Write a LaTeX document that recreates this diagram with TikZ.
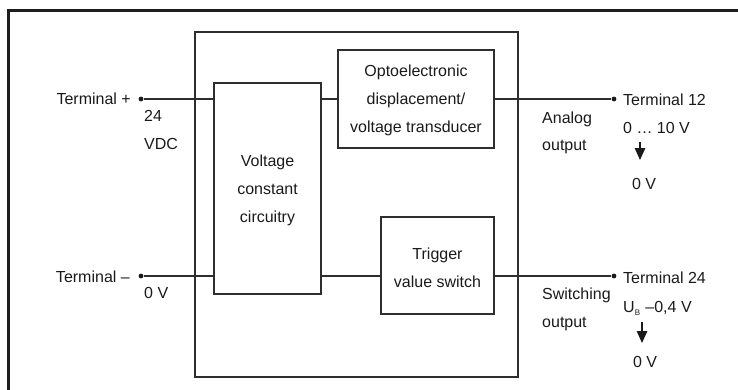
\documentclass[tikz,border=0pt]{standalone}
\usepackage{fontspec}
\setmainfont{Liberation Sans}
\usetikzlibrary{arrows.meta}
\definecolor{linec}{HTML}{2E2E2E}
\definecolor{txtc}{HTML}{1A1A1A}
\definecolor{framec}{HTML}{1E1E1E}
\begin{document}
\begin{tikzpicture}[x=1pt,y=-1pt,
  box/.style={draw=linec, line width=1.1pt, rectangle, inner sep=0pt},
  wire/.style={draw=linec, line width=1.1pt},
  txt/.style={font=\fontsize{16}{28.3}\selectfont, text=txtc, inner sep=0pt},
  btxt/.style={txt, align=center},
  dotc/.style={circle, fill=txtc, inner sep=0pt, minimum size=4.8pt},
  varrow/.style={draw=txtc, line width=1.3pt, -{Triangle[length=12pt,width=10.5pt]}}
]
\useasboundingbox (0,0) rectangle (738,389);
\begin{scope}
\clip (0,0) rectangle (738,389);
\draw[framec, line width=3pt] (8,10) rectangle (800,450);
\end{scope}

% boxes
\node[box, minimum width=323pt, minimum height=345pt] (outer) at (356.5,204.5) {};
\node[box, minimum width=107pt, minimum height=211pt] (vc) at (267.5,188.5) {};
\node[box, minimum width=156pt, minimum height=98pt] (opto) at (416,99) {};
\node[box, minimum width=113pt, minimum height=97pt] (trig) at (437.5,265.5) {};

% box texts
\node[btxt] (vct) at (267.5,190.5) {Voltage\\constant\\circuitry};
\node[btxt] (optot) at (416,100.5) {Optoelectronic\\displacement/\\voltage transducer};
\node[btxt] (trigt) at (437.5,268) {Trigger\\value switch};

% terminals
\node[dotc] (tp) at (141,99) {};
\node[dotc] (tm) at (141,276) {};
\node[dotc] (t12) at (614,99) {};
\node[dotc] (t24) at (614,276) {};

% wires
\draw[wire] (tp) -- (vc.west |- tp);
\draw[wire] (vc.east |- tp) -- (opto.west |- tp);
\draw[wire] (opto.east |- t12) -- (t12);
\draw[wire] (tm) -- (vc.west |- tm);
\draw[wire] (vc.east |- tm) -- (trig.west |- tm);
\draw[wire] (trig.east |- t24) -- (t24);

% left labels
\node[txt, anchor=base east] (ltp) at (131,104) {Terminal +};
\node[txt, anchor=base west] (l24) at (144,121) {24};
\node[txt, anchor=base west] (lvdc) at (144,149) {VDC};
\node[txt, anchor=base east] (ltm) at (130,282) {Terminal –};
\node[txt, anchor=base west] (l0v) at (144,298) {0 V};

% right labels
\node[txt, anchor=base west] (an1) at (542,123) {Analog};
\node[txt, anchor=base west] (an2) at (542,150) {output};
\node[txt, anchor=base west] (lt12) at (623,105) {Terminal 12};
\node[txt, anchor=base west] (l010) at (623,133) {0 … 10 V};
\node[txt, anchor=base] (z1) at (644,189) {0 V};

\node[txt, anchor=base west] (sw1) at (542,299) {Switching};
\node[txt, anchor=base west] (sw2) at (542,327) {output};
\node[txt, anchor=base west] (lt24) at (623,283) {Terminal 24};
\node[txt, anchor=base west] (lub) at (623,312) {U\raisebox{-0.45ex}{\fontsize{8}{8}\selectfont B}\,\,–0,4 V};
\node[txt, anchor=base] (z2) at (645,367) {0 V};

% arrows
\coordinate (a1s) at (640,142);
\coordinate (a1e) at (640,160);
\coordinate (a2s) at (642,322);
\coordinate (a2e) at (642,343);
\draw[varrow] (a1s) -- (a1e);
\draw[varrow] (a2s) -- (a2e);
\end{tikzpicture}
\end{document}
